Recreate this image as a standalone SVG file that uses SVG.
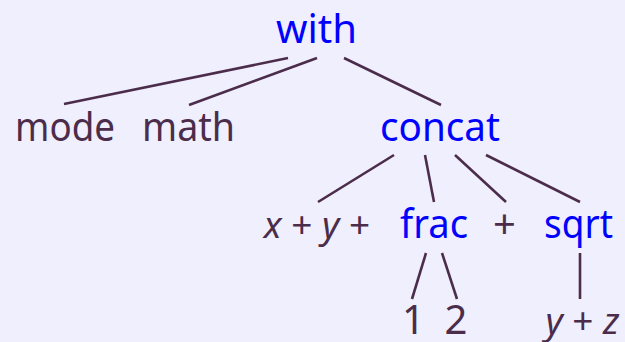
<svg xmlns="http://www.w3.org/2000/svg" width="625" height="342" viewBox="0 0 625 342">
<style>
text{font-family:"Noto Sans","Open Sans",sans-serif;font-size:40px;text-anchor:middle}
.op{fill:#0000ff}
.lf{fill:#4b2d4b}
.m{font-size:37px}
.it{font-style:italic}
#connectors line{stroke:#4b2d4b;stroke-width:2.6;stroke-linecap:butt}
</style>
<rect width="625" height="342" fill="#f0effd"/>
<g id="connectors">
<line x1="288" y1="58" x2="64" y2="104"/>
<line x1="317" y1="58" x2="189" y2="105"/>
<line x1="344" y1="58" x2="441" y2="105"/>
<line x1="394" y1="155" x2="318" y2="202"/>
<line x1="425" y1="155" x2="434" y2="202"/>
<line x1="455" y1="155" x2="506" y2="202"/>
<line x1="486" y1="155" x2="580" y2="202"/>
<line x1="426" y1="253" x2="412" y2="299"/>
<line x1="442" y1="253" x2="457" y2="299"/>
<line x1="580" y1="253" x2="580" y2="299"/>
</g>
<g id="with"><text class="op" x="316.5" y="43" textLength="81" lengthAdjust="spacingAndGlyphs">with</text></g>
<g id="mode"><text class="lf" x="65" y="141" textLength="100" lengthAdjust="spacingAndGlyphs">mode</text></g>
<g id="math"><text class="lf" x="188.5" y="141" textLength="93" lengthAdjust="spacingAndGlyphs">math</text></g>
<g id="concat"><text class="op" x="440" y="141" textLength="120" lengthAdjust="spacingAndGlyphs">concat</text></g>
<g id="xy"><text class="lf m" x="317" y="238"><tspan class="it">x</tspan> + <tspan class="it">y</tspan> +</text></g>
<g id="frac"><text class="op" x="434" y="238" textLength="68" lengthAdjust="spacingAndGlyphs">frac</text></g>
<g id="plus"><text class="lf" x="504.5" y="238">+</text></g>
<g id="sqrt"><text class="op" x="578.5" y="238" textLength="69" lengthAdjust="spacingAndGlyphs">sqrt</text></g>
<g id="one"><text class="lf" x="413.5" y="334">1</text></g>
<g id="two"><text class="lf" x="456" y="334">2</text></g>
<g id="yz"><text class="lf m" x="582.5" y="334"><tspan class="it">y</tspan> + <tspan class="it">z</tspan></text></g>
</svg>
